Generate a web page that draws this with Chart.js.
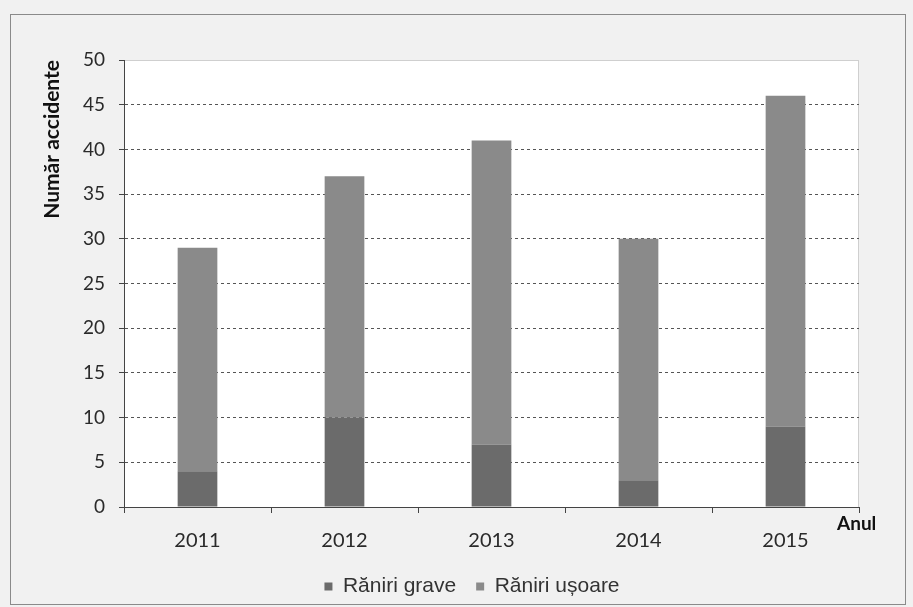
<!DOCTYPE html>
<html>
<head>
<meta charset="utf-8">
<script src="https://cdn.jsdelivr.net/npm/chart.js@4"></script>
<style>
  html, body { margin: 0; padding: 0; background: #f1f1f1; }
</style>
</head>
<body>
<canvas id="myBarChart" width="913" height="607"></canvas>
<script>
// data
const years = ['2011', '2012', '2013', '2014', '2015'];
const raniriGrave = [4, 10, 7, 3, 9];
const raniriUsoare = [25, 27, 34, 27, 37];
const yTicks = [0, 5, 10, 15, 20, 25, 30, 35, 40, 45, 50];

const calibriLike = 'Lato, "Open Sans", sans-serif';

// frame, white plot area and the "Anul" label
const decor = {
  id: 'decor',
  beforeDraw(chart) {
    const c = chart.ctx, a = chart.chartArea;
    c.save();
    c.fillStyle = '#f1f1f1';
    c.fillRect(0, 0, chart.width, chart.height);
    c.strokeStyle = '#8a8a8a';
    c.lineWidth = 1;
    c.strokeRect(10.5, 14.5, 895, 590);
    c.fillStyle = '#ffffff';
    c.fillRect(a.left, a.top, a.right - a.left, a.bottom - a.top);
    c.strokeStyle = '#cfcfcf';
    c.strokeRect(a.left + 0.5, a.top + 0.5, a.right - a.left - 1, a.bottom - a.top);
    c.restore();
  },
  afterDraw(chart) {
    const c = chart.ctx, a = chart.chartArea;
    c.save();
    c.fillStyle = '#111';
    c.font = 'bold 19px ' + calibriLike;
    c.textBaseline = 'middle';
    c.fillText('Anul', a.right - 22, a.bottom + 17);
    c.restore();
  }
};

var myBarChart = new Chart(document.getElementById('myBarChart'), {
  type: 'bar',
  data: {
    labels: years,
    datasets: [{
      label: 'Răniri grave',
      backgroundColor: '#6b6b6b',
      data: raniriGrave,
      barPercentage: 0.54,
      categoryPercentage: 0.5
    }, {
      label: 'Răniri ușoare',
      backgroundColor: '#8a8a8a',
      data: raniriUsoare,
      barPercentage: 0.54,
      categoryPercentage: 0.5
    }]
  },
  options: {
    responsive: false,
    animation: false,
    layout: { padding: { left: 31, right: 0, top: 60, bottom: 0 } },
    scales: {
      x: {
        stacked: true,
        afterFit(scale) { scale.height = 49; },
        grid: { drawOnChartArea: false, drawTicks: true, tickLength: 6, tickColor: '#444' },
        border: { color: '#444' },
        ticks: { color: '#2a2a2a', font: { family: calibriLike, size: 20 }, padding: 16 }
      },
      y: {
        stacked: true,
        min: 0,
        max: 50,
        afterBuildTicks(scale) { scale.ticks = yTicks.map(v => ({ value: v })); },
        afterFit(scale) { scale.width = 93; },
        grid: {
          color: ctx => (ctx.tick && (ctx.tick.value === 50 || ctx.tick.value === 0)) ? 'rgba(0,0,0,0)' : '#555',
          tickColor: '#444',
          lineWidth: 1,
          tickLength: 5,
          tickBorderDash: []
        },
        border: { color: '#444', dash: [3, 3] },
        ticks: { color: '#2a2a2a', font: { family: calibriLike, size: 19 }, padding: 14 },
        title: {
          display: true,
          align: 'end',
          text: 'Număr accidente',
          color: '#111',
          font: { family: calibriLike, size: 21, weight: 'bold' },
          padding: { top: 9, bottom: 0 }
        }
      },
      // empty right axis, only reserves the gap right of the plot
      y2: {
        display: true,
        position: 'right',
        afterFit(scale) { scale.width = 54; },
        grid: { display: false },
        border: { display: false },
        ticks: { display: false }
      }
    },
    plugins: {
      legend: {
        display: true,
        position: 'bottom',
        labels: {
          boxWidth: 8,
          boxHeight: 8,
          padding: 20,
          color: '#333',
          font: { family: '"Liberation Sans", Arial, sans-serif', size: 21, lineHeight: 1.0 }
        }
      },
      tooltip: { enabled: false }
    }
  },
  plugins: [decor]
});
</script>
</body>
</html>
